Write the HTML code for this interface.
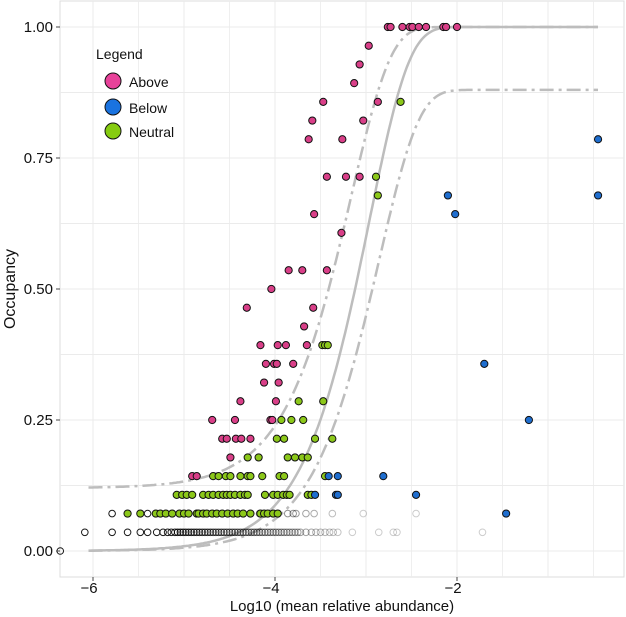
<!DOCTYPE html>
<html><head><meta charset="utf-8">
<style>
html,body{margin:0;padding:0;background:#fff;}
svg{display:block;font-family:"Liberation Sans",sans-serif;}
</style></head>
<body>
<svg id="chart" width="626" height="617" viewBox="0 0 626 617" xmlns="http://www.w3.org/2000/svg">
  <rect x="60" y="1" width="564" height="576" fill="#fff" stroke="#dcdcdc" stroke-width="1"/>
  <g id="grid"></g>
  <g id="curves"></g>
  <g id="points"></g>
  <g id="axes"></g>
  <text transform="translate(15,289) rotate(-90)" text-anchor="middle" font-size="16" fill="#111">Occupancy</text>
  <text x="342" y="611" text-anchor="middle" font-size="15" fill="#111">Log10 (mean relative abundance)</text>
  <g>
    <text x="96" y="59" font-size="14" fill="#111">Legend</text>
    <circle cx="113" cy="81" r="8" fill="#e8429a" stroke="#111" stroke-width="1"/>
    <text x="129" y="87" font-size="14" fill="#111">Above</text>
    <circle cx="113" cy="107" r="8" fill="#1a73e0" stroke="#111" stroke-width="1"/>
    <text x="129" y="113" font-size="14" fill="#111">Below</text>
    <circle cx="113" cy="131" r="8" fill="#86cc10" stroke="#111" stroke-width="1"/>
    <text x="129" y="137" font-size="14" fill="#111">Neutral</text>
  </g>
</svg>
<script>
// ---- data ----
const xTicks = [-6, -4, -2];
const xTickLabels = ["\u22126", "\u22124", "\u22122"];
const yTicks = [0, 0.25, 0.5, 0.75, 1];
const yTickLabels = ["0.00", "0.25", "0.50", "0.75", "1.00"];
const nSamples = 28;
// [log10 abundance, number of samples present]
const aboveX = [-4.91,-4.86,-4.49,-4.58,-4.53,-4.43,-4.37,-4.27,-4.69,-4.44,-4.05,-4.03,-4.38,-3.99,-4.12,-3.96,-4.10,-4.01,-3.98,-3.80,-4.16,-3.97,-3.88,-3.65,-3.68,-4.31,-3.58,-4.04,-3.85,-3.70,-3.43,-3.27,-3.57,-3.43,-3.22,-3.07,-3.63,-3.26,-3.59,-3.03,-3.47,-2.87,-3.13,-3.07,-2.97,-2.76,-2.73,-2.60,-2.52,-2.49,-2.42,-2.34,-2.15,-2.12,-2.00];
const aboveK = [4,4,5,6,6,6,6,6,7,7,7,7,8,8,9,9,10,10,10,10,11,11,11,11,12,13,13,14,15,15,15,17,18,20,20,20,22,22,23,23,24,24,25,26,27,28,28,28,28,28,28,28,28,28,28];
const belowX = [-1.46,-3.56,-3.33,-3.31,-2.45,-3.41,-3.31,-2.81,-1.21,-1.70,-2.02,-2.10,-0.45,-0.45];
const belowK = [2,3,3,3,3,4,4,4,7,10,18,19,19,22];
const neutralX = [-5.62,-5.48,-5.31,-5.26,-5.20,-5.13,-5.05,-5.00,-4.95,-4.86,-4.84,-4.79,-4.75,-4.69,-4.64,-4.58,-4.52,-4.46,-4.41,-4.35,-4.27,-4.16,-4.12,-4.08,-4.02,-3.97,
 -5.08,-5.02,-4.97,-4.91,-4.79,-4.73,-4.68,-4.62,-4.57,-4.53,-4.49,-4.44,-4.38,-4.33,-4.30,-4.11,-4.02,-3.97,-3.91,-3.87,-3.84,-3.64,-3.60,
 -4.68,-4.62,-4.54,-4.49,-4.38,-4.30,-4.27,-4.14,-3.95,-3.90,-3.45,
 -4.30,-4.18,-3.86,-3.78,-3.70,-3.64,
 -3.98,-3.90,-3.56,-3.37,
 -3.93,-3.82,-3.69,
 -3.74,-3.47,
 -3.48,-3.45,-3.42,
 -2.87,-2.89,-2.62];
const neutralK = [2,2,2,2,2,2,2,2,2,2,2,2,2,2,2,2,2,2,2,2,2,2,2,2,2,2,
 3,3,3,3,3,3,3,3,3,3,3,3,3,3,3,3,3,3,3,3,3,3,3,
 4,4,4,4,4,4,4,4,4,4,4,
 5,5,5,5,5,5,
 6,6,6,6,
 7,7,7,
 8,8,
 11,11,11,
 19,20,24];
const otherX = [-6.36,
 -6.09,-5.79,-5.62,-5.48,-5.40,-5.30,-5.23,-5.18,-5.14,-5.10,-5.07,-5.04,-5.01,-4.98,-4.95,-4.92,-4.89,-4.86,-4.83,-4.80,-4.77,-4.74,-4.71,-4.68,-4.65,-4.62,-4.59,-4.56,-4.53,-4.50,-4.47,-4.44,-4.41,-4.38,-4.35,-4.32,-4.29,-4.26,-4.23,-4.20,-4.17,-4.14,-4.11,-4.08,-4.05,-4.02,-3.99,-3.96,-3.93,-3.90,-3.87,-3.84,-3.81,-3.78,-3.75,-3.72,-3.66,-3.60,-3.55,-3.50,-3.45,-3.40,-3.36,-3.31,-3.15,-2.86,-2.70,-2.66,-1.72,
 -5.79,-5.40,-4.86,-4.17,-3.86,-3.80,-3.77,-3.66,-3.57,-3.37,-3.03,-2.45];
const otherK = [0,
 1,1,1,1,1,1,1,1,1,1,1,1,1,1,1,1,1,1,1,1,1,1,1,1,1,1,1,1,1,1,1,1,1,1,1,1,1,1,1,1,1,1,1,1,1,1,1,1,1,1,1,1,1,1,1,1,1,1,1,1,1,1,1,1,1,1,1,1,1,
 2,2,2,2,2,2,2,2,2,2,2,2];
// neutral model parameters
const modelRate = [913, 1455, 714];   // fit, upper, lower
const modelFloor = [0, 0.12, 0];
const modelCeil = [1, 1, 0.88];

// ---- scales ----
const NS = "http://www.w3.org/2000/svg";
function sx(v){ return 93 + 91*(v+6); }
function sy(v){ return 551 - 524*v; }
function mk(tag, attrs, parent){ const e=document.createElementNS(NS,tag); for(const k in attrs) e.setAttribute(k,attrs[k]); parent.appendChild(e); return e; }

const grid = document.getElementById('grid');
for (let v=-6; v<=-0.5; v+=0.5){
  const l = mk('line',{x1:sx(v),x2:sx(v),y1:1,y2:577,stroke:'#ebebeb','stroke-width':Number.isInteger(v)?1:0.8},grid);
  
  
}
for (let v=0; v<=1.001; v+=0.125){
  const l = mk('line',{x1:60,x2:624,y1:sy(v),y2:sy(v),stroke:'#ebebeb','stroke-width':1},grid);
  
  
}

// curves
const curves = document.getElementById('curves');
function model(i,x){ return modelFloor[i] + (modelCeil[i]-modelFloor[i])*(1-Math.exp(-modelRate[i]*Math.pow(10,x))); }
const curveNames = ['fit-curve','upper-ci-curve','lower-ci-curve'];
for (let i=0;i<3;i++){
  let d='';
  for (let x=-6.05; x<=-0.45; x+=0.02){ d += (d?'L':'M')+sx(x).toFixed(1)+','+sy(model(i,x)).toFixed(1); }
  const p = mk('path',{d:d,fill:'none',stroke:'#bdbdbd','stroke-width':2.5},curves);
  if(i>0) p.setAttribute('stroke-dasharray','14,5,3,5');
  
  
}

// points
const pts = document.getElementById('points');
for (let i=0;i<otherX.length;i++){
  const x=otherX[i];
  const op = Math.max(0.2, Math.min(0.9, 0.9 - (x+5.2)*0.35));
  const c = mk('circle',{cx:sx(x),cy:sy(otherK[i]/nSamples),r:3.3,fill:'none',stroke:'#000','stroke-opacity':op,'stroke-width':1},pts);
  
  
}
function drawSeries(xs, ks, fill, name){
  for (let i=0;i<xs.length;i++){
    const c = mk('circle',{cx:sx(xs[i]),cy:sy(ks[i]/nSamples),r:3.6,fill:fill,stroke:'#111','stroke-width':1},pts);
    
    
  }
}
drawSeries(neutralX, neutralK, '#8cc81a', 'neutral-point');
drawSeries(belowX, belowK, '#1f6ecf', 'below-point');
drawSeries(aboveX, aboveK, '#d93f88', 'above-point');

// axes
const axes = document.getElementById('axes');
xTicks.forEach((v,i)=>{
  const t = mk('line',{x1:sx(v),x2:sx(v),y1:577,y2:581,stroke:'#444'},axes);
  
  
  const tx = mk('text',{x:sx(v)-4,y:593,'text-anchor':'middle','font-size':15,fill:'#111'},axes);
  tx.textContent = xTickLabels[i];
  
  
});
yTicks.forEach((v,i)=>{
  const t = mk('line',{x1:56,x2:60,y1:sy(v),y2:sy(v),stroke:'#444'},axes);
  
  
  const tx = mk('text',{x:53,y:sy(v)+5,'text-anchor':'end','font-size':15,fill:'#111'},axes);
  tx.textContent = yTickLabels[i];
  
  
});
</script>
</body></html>
